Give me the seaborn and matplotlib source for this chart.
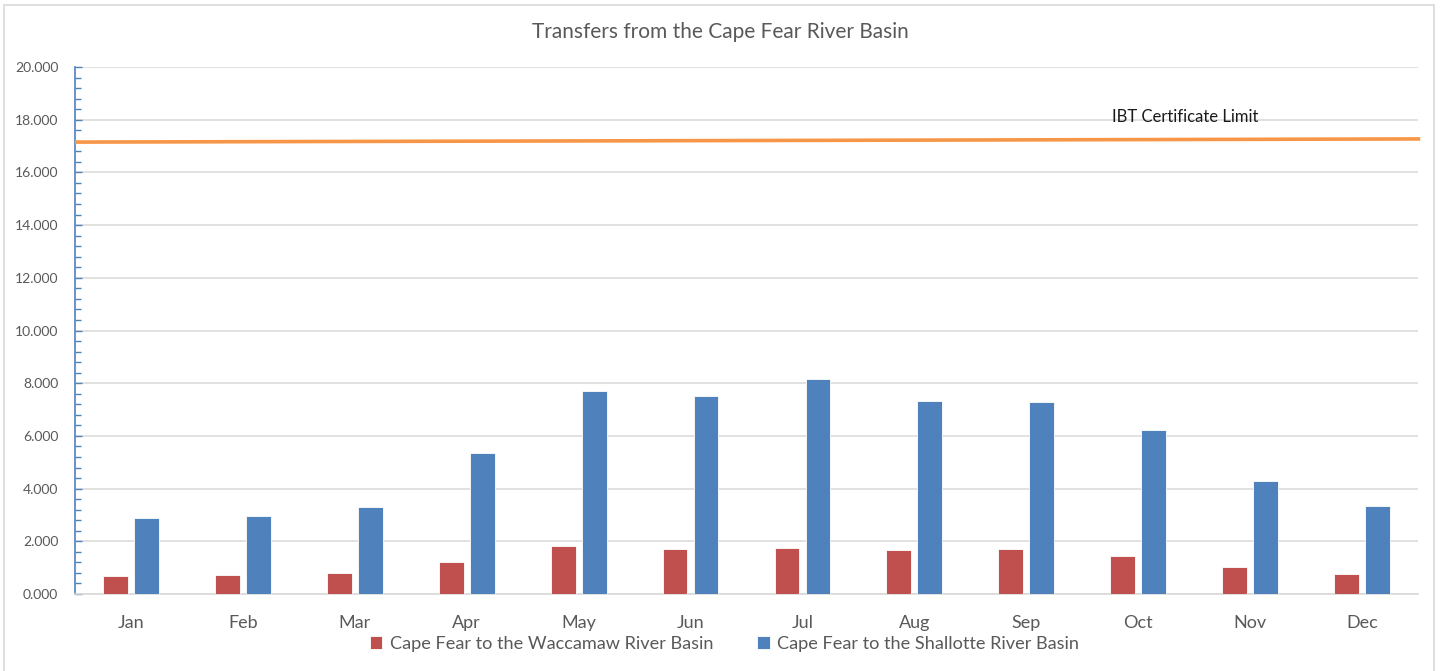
import numpy as np
import pandas as pd
import matplotlib
matplotlib.use("Agg")
import matplotlib.pyplot as plt
import matplotlib.patches as mpatches
from matplotlib.ticker import MultipleLocator, FormatStrFormatter
import seaborn as sns

months = ["Jan", "Feb", "Mar", "Apr", "May", "Jun", "Jul", "Aug", "Sep", "Oct", "Nov", "Dec"]
waccamaw = [0.68, 0.72, 0.78, 1.23, 1.81, 1.71, 1.75, 1.66, 1.71, 1.44, 1.02, 0.77]
shallotte = [2.90, 2.96, 3.30, 5.35, 7.72, 7.51, 8.17, 7.32, 7.29, 6.22, 4.29, 3.33]
limit_values = [17.15, 17.27]  # IBT certificate limit at left / right edge
series_names = ["Cape Fear to the Waccamaw River Basin", "Cape Fear to the Shallotte River Basin"]
title = "Transfers from the Cape Fear River Basin"
limit_label = "IBT Certificate Limit"

df = pd.DataFrame({
    "Month": months * 2,
    "Value": waccamaw + shallotte,
    "Series": [series_names[0]] * 12 + [series_names[1]] * 12,
})

sns.set_theme(style="white")
plt.rcParams['font.family'] = ['Lato', 'DejaVu Sans']

RED = "#C0504D"
BLUE = "#4F81BD"
ORANGE = "#F79646"
GRID = "#D9D9D9"
TXT = "#595959"

fig = plt.figure(figsize=(14.4, 6.71), dpi=100)
ax = fig.add_axes([75 / 1440, 1 - 594 / 671, (1418 - 75) / 1440, (594 - 67) / 671])

sns.barplot(data=df, x="Month", y="Value", hue="Series", order=months,
            hue_order=series_names, palette=[RED, BLUE], saturation=1,
            width=0.555, gap=0.2, edgecolor="white", linewidth=0.6,
            ax=ax, legend=True, zorder=3)

ax.set_xlim(-0.5, 11.5)
ax.set_ylim(0, 20)
xl = ax.get_xlim()
ax.plot([xl[0], xl[1] + 0.02], limit_values, color=ORANGE, lw=2.6, zorder=4, clip_on=False,
        solid_capstyle="butt")
ax.text(8.77, 17.8, limit_label, fontsize=12, color="#1a1a1a", ha="left", va="bottom")

ax.yaxis.set_major_locator(MultipleLocator(2))
ax.yaxis.set_minor_locator(MultipleLocator(0.4))
ax.yaxis.set_major_formatter(FormatStrFormatter("%.3f"))
ax.grid(axis="y", which="major", color=GRID, lw=1.1, zorder=0)
ax.set_axisbelow(True)

for s in ["top", "right"]:
    ax.spines[s].set_visible(False)
ax.spines["left"].set_color(BLUE)
ax.spines["left"].set_linewidth(1.2)
ax.spines["bottom"].set_color(GRID)
ax.spines["bottom"].set_linewidth(1.2)

ax.tick_params(axis="y", which="both", direction="in", color=BLUE, width=1.0, left=True,
               labelsize=10, labelcolor=TXT, pad=12)
ax.tick_params(axis="y", which="major", length=5)
ax.tick_params(axis="y", which="minor", length=4)
ax.tick_params(axis="x", length=0, labelsize=13, labelcolor=TXT, pad=15)
ax.set_xlabel("")
ax.set_ylabel("")

fig.text(0.5, 1 - 32 / 671, title, ha="center", va="center", fontsize=15, color=TXT)

handles, labels = ax.get_legend_handles_labels()
ax.get_legend().remove()
fig.legend(handles, labels, loc="center", bbox_to_anchor=(0.503, 1 - 644 / 671), ncol=2,
           frameon=False, fontsize=13.1, labelcolor=TXT, handlelength=0.7, handleheight=0.7,
           handletextpad=0.4, columnspacing=2.4, borderaxespad=0)

border = mpatches.Rectangle((4 / 1440, -0.05), (1434 - 4) / 1440, 1.05 - 5 / 671,
                            transform=fig.transFigure, fill=False, edgecolor=GRID, lw=1.2)
fig.patches.append(border)

fig.savefig("out.png", dpi=100, facecolor="white")
